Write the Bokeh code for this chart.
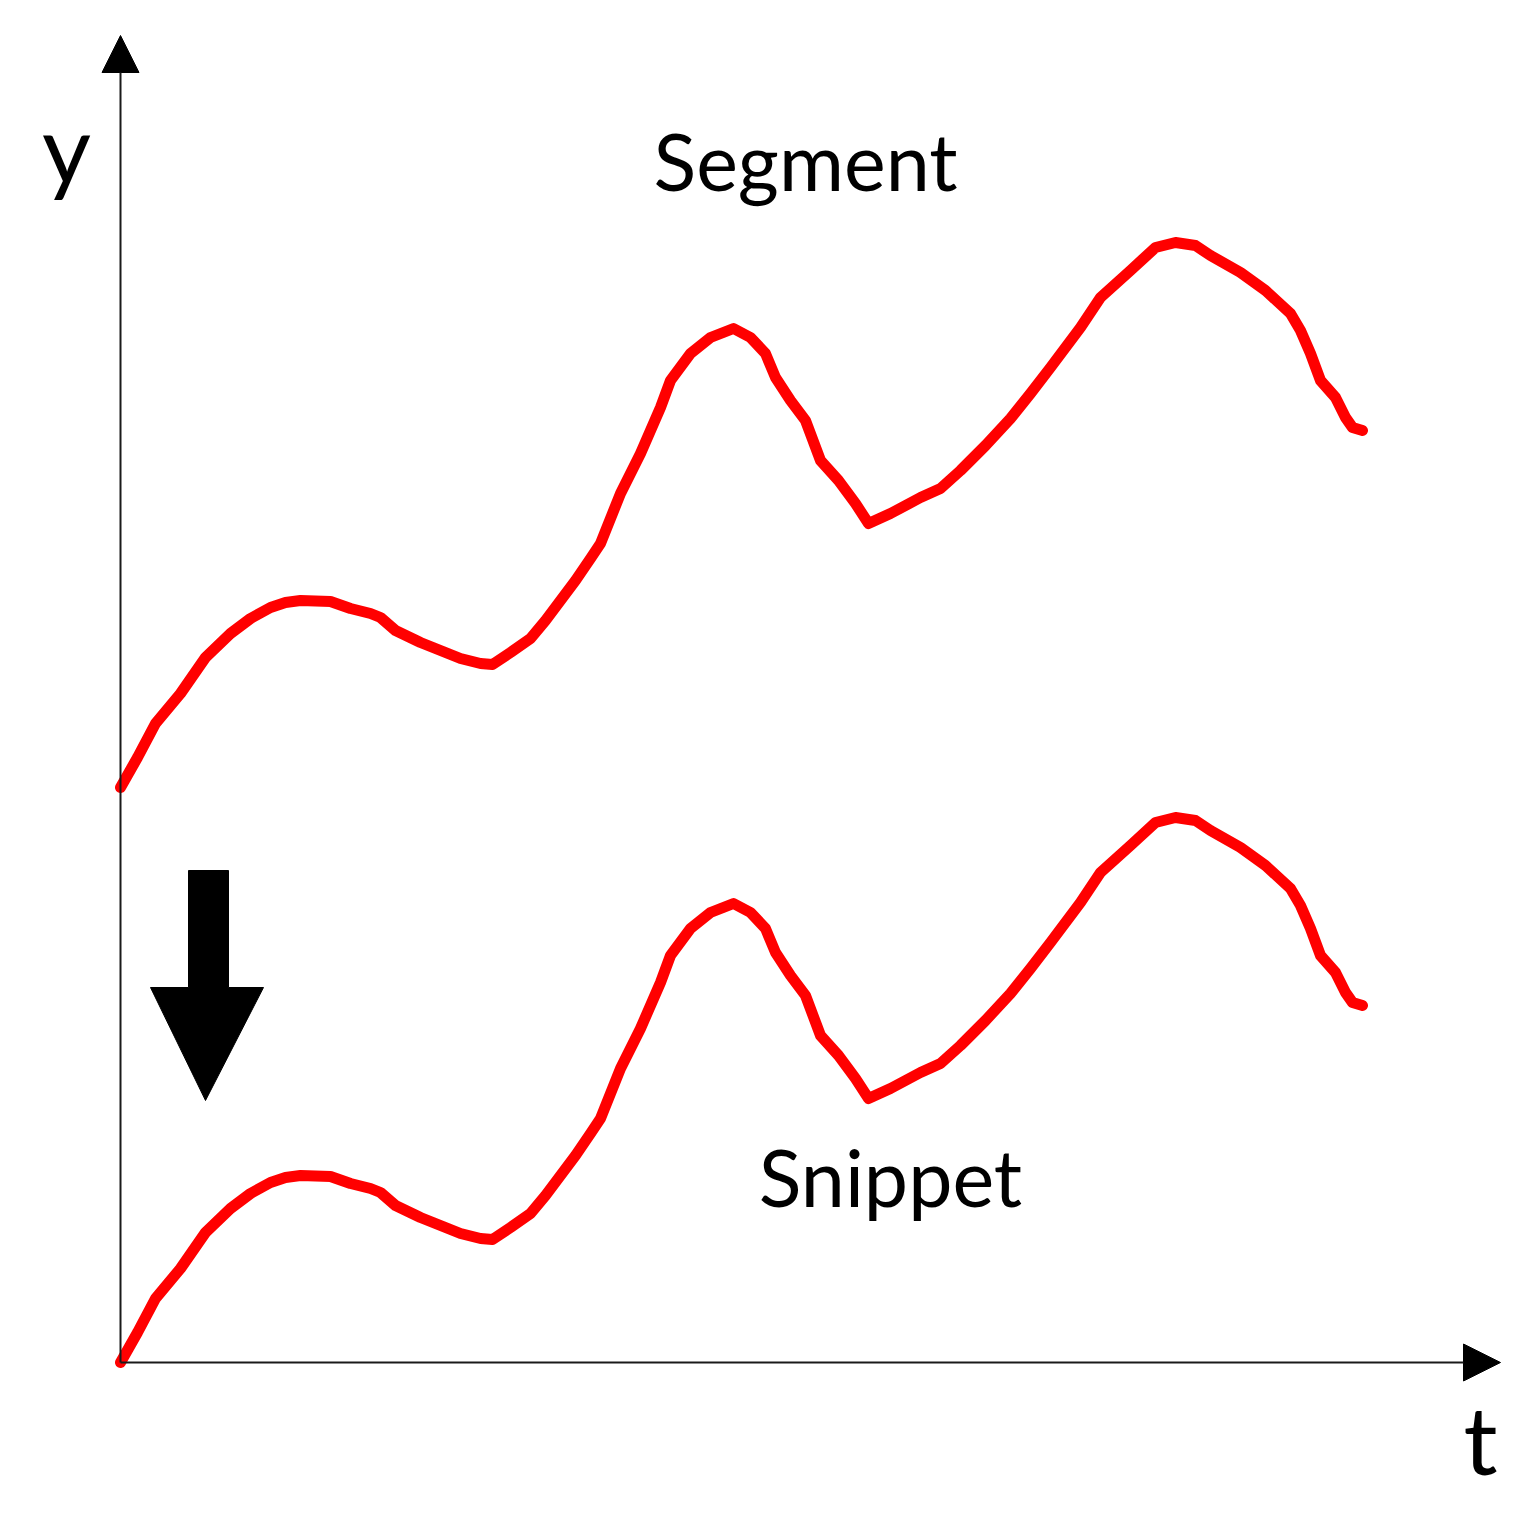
from bokeh.plotting import figure
from bokeh.models import Range1d, Arrow, NormalHead
from bokeh.core.properties import value
from bokeh.embed import file_html
from bokeh.resources import INLINE

# time axis (shared by both curves)
t = [0.00, 0.17, 0.35, 0.60, 0.85, 1.10, 1.30, 1.50, 1.65, 1.80, 2.10, 2.30, 2.50, 2.60,
     2.75, 3.00, 3.25, 3.40, 3.60, 3.72, 3.90, 4.10, 4.25, 4.40, 4.55, 4.70, 4.80, 5.00,
     5.20, 5.40, 5.50, 5.70, 5.90, 6.13, 6.30, 6.45, 6.55, 6.70, 6.85, 7.00, 7.18, 7.35,
     7.48, 7.70, 8.00, 8.20, 8.40, 8.65, 8.90, 9.10, 9.30, 9.60, 9.80, 10.10, 10.35,
     10.55, 10.75, 10.90, 11.20, 11.45, 11.70, 11.80, 11.90, 12.00, 12.15, 12.25, 12.32,
     12.42]

# upper curve: "Segment"
segment_y = [5.75, 6.05, 6.39, 6.69, 7.05, 7.29, 7.44, 7.55, 7.60, 7.62, 7.61, 7.54, 7.49,
             7.45, 7.32, 7.20, 7.10, 7.04, 6.99, 6.98, 7.10, 7.24, 7.42, 7.62, 7.82, 8.04,
             8.19, 8.69, 9.09, 9.55, 9.82, 10.09, 10.25, 10.34, 10.25, 10.09, 9.85, 9.62,
             9.42, 9.02, 8.82, 8.59, 8.39, 8.49, 8.65, 8.74, 8.92, 9.17, 9.44, 9.69, 9.95,
             10.35, 10.65, 10.92, 11.15, 11.20, 11.17, 11.07, 10.90, 10.72, 10.49, 10.32,
             10.09, 9.82, 9.65, 9.45, 9.35, 9.32]

# lower curve: "Snippet"
snippet_y = [0.00, 0.30, 0.64, 0.94, 1.30, 1.54, 1.69, 1.80, 1.85, 1.87, 1.86, 1.79, 1.74,
             1.70, 1.57, 1.45, 1.35, 1.29, 1.24, 1.23, 1.35, 1.49, 1.67, 1.87, 2.07, 2.29,
             2.44, 2.94, 3.34, 3.80, 4.07, 4.34, 4.50, 4.59, 4.50, 4.34, 4.10, 3.87, 3.67,
             3.27, 3.07, 2.84, 2.64, 2.74, 2.90, 2.99, 3.17, 3.42, 3.69, 3.94, 4.20, 4.60,
             4.90, 5.17, 5.40, 5.45, 5.42, 5.32, 5.15, 4.97, 4.74, 4.57, 4.34, 4.07, 3.90,
             3.70, 3.60, 3.57]

# labels
label_texts = ["Segment", "Snippet"]
axis_names = ["y", "t"]

# axis extents
t_axis_end = 13.80
y_axis_end = 13.27

# big down arrow outline (shaft + head)
shift_arrow_t = [0.68, 1.08, 1.08, 1.43, 0.85, 0.30, 0.68]
shift_arrow_y = [4.92, 4.92, 3.75, 3.75, 2.62, 3.75, 3.75]

p = figure(width=1514, height=1501,
           x_range=Range1d(-1.20, 13.94), y_range=Range1d(-1.39, 13.62),
           output_backend="svg", toolbar_location=None, min_border=0,
           x_axis_location=None, y_axis_location=None)
p.grid.visible = False
p.outline_line_color = None
p.background_fill_color = "white"
p.border_fill_color = "white"

# axes with arrow heads
p.add_layout(Arrow(x_start=0, y_start=0, x_end=0, y_end=y_axis_end,
                   line_color="#1a1a1a", line_width=2,
                   end=NormalHead(size=37, fill_color="black", line_color="black", line_width=1)))
p.add_layout(Arrow(x_start=0, y_start=0, x_end=t_axis_end, y_end=0,
                   line_color="#1a1a1a", line_width=2,
                   end=NormalHead(size=37, fill_color="black", line_color="black", line_width=1)))

# curves
p.line(t, segment_y, line_color="#ff0000", line_width=11, line_join="round", line_cap="round")
p.line(t, snippet_y, line_color="#ff0000", line_width=11, line_join="round", line_cap="round")

# down arrow
p.patch(shift_arrow_t, shift_arrow_y, fill_color="black", line_color="black", line_width=1)

# labels
p.text(x=[6.85, 7.70], y=[12.02, 1.86], text=label_texts,
       text_font=value("Lato"), text_font_size="79px", text_color="black",
       text_align="center", text_baseline="alphabetic")
p.text(x=[-0.54, 13.60], y=[12.16, -0.75], text=axis_names,
       text_font=value("Lato"), text_font_size="95px", text_color="black",
       text_align="center", text_baseline="alphabetic")

open("out.html", "w").write(file_html(p, INLINE))
